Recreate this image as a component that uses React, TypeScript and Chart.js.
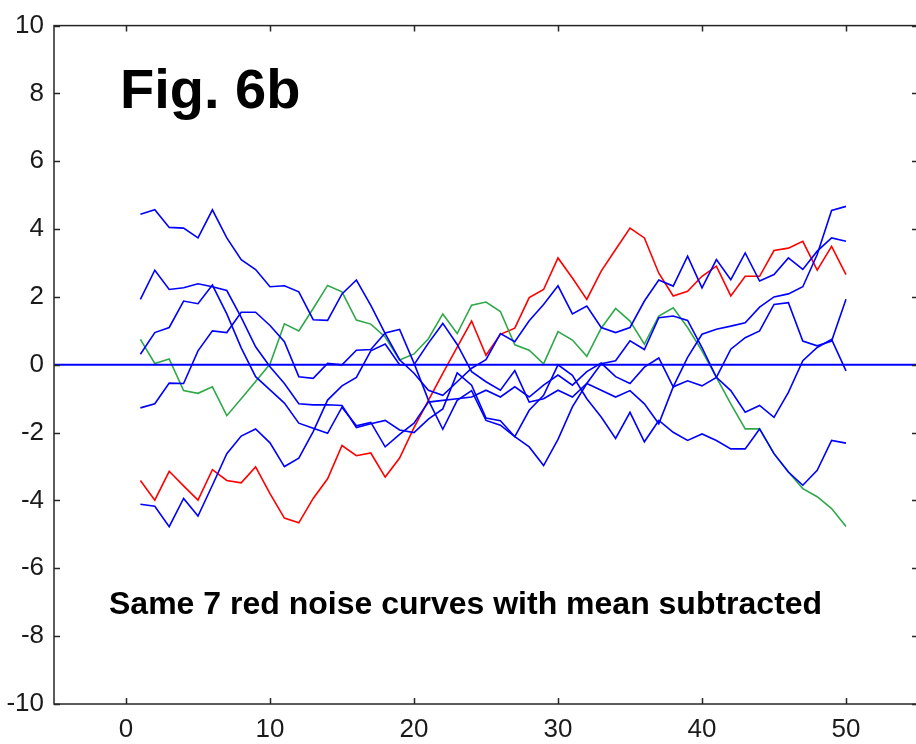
import React, { useEffect, useRef } from "react";
import { Chart, registerables } from "chart.js";

Chart.register(...registerables);

// ---------- data ----------
const xs = [1, 2, 3, 4, 5, 6, 7, 8, 9, 10, 11, 12, 13, 14, 15, 16, 17, 18, 19, 20, 21, 22, 23, 24, 25,
  26, 27, 28, 29, 30, 31, 32, 33, 34, 35, 36, 37, 38, 39, 40, 41, 42, 43, 44, 45, 46, 47, 48, 49, 50];

const blueA = [4.44, 4.57, 4.05, 4.03, 3.74, 4.57, 3.74, 3.10, 2.81, 2.30, 2.33, 2.15, 1.33, 1.31, 2.09, 2.50, 1.75, 0.92,
  0.15, -0.25, -0.75, -0.90, -0.50, -0.10, 0.15,
  0.92, 0.68, 1.30, 1.78, 2.33, 1.50, 1.73, 1.10, 0.95, 1.10, 1.88, 2.50,
  2.32, 3.20, 2.27, 3.10, 2.51, 3.30, 2.47, 2.66, 3.15, 2.81, 3.35, 3.74, 3.64];

const blueB = [-1.27, -1.15, -0.54, -0.55, 0.41, 1.00, 0.95, 1.55, 1.55, 1.16, 0.68, -0.35, -0.40, 0.04, 0.00, 0.43, 0.45, 0.94,
  1.04, 0.05, -1.04, -1.90, -1.05, -0.76, -1.64, -1.78, -2.12, -2.42, -2.97, -2.20, -1.24, -0.55, 0.03, 0.12, 0.71, 0.45,
  1.39, 1.44, 1.31, 0.51, -0.37, -0.76, -1.40, -1.20, -1.55, -0.81, 0.12, 0.51, 0.75, -0.18];

const blueC = [-4.11, -4.17, -4.77, -3.94, -4.46, -3.55, -2.62, -2.10, -1.89, -2.30, -3.00, -2.75, -1.97, -1.04, -0.62, -0.37, 0.41, 0.61,
  0.00, 0.00, 0.64, 1.22, 0.60, -0.20, -0.50, -0.75, -0.17, -1.10, -1.00, -0.75, -0.95, -0.55, -0.75, -0.95, -0.76, -1.15,
  -1.74, -0.65, 0.22, 0.90, 1.05, 1.14, 1.24, 1.70, 2.00, 2.09, 2.30, 3.25, 4.55, 4.67];

const blueD = [1.93, 2.79, 2.22, 2.27, 2.39, 2.30, 2.19, 1.40, 0.53, -0.06, -0.55, -1.15, -1.18, -1.18, -1.20, -1.85, -1.74, -1.64,
  -1.92, -2.00, -1.60, -1.30, -0.24, -0.60, -1.57, -1.65, -2.12, -1.34, -0.90, 0.00, -0.31, -1.00, -1.54, -2.17, -1.40, -2.27,
  -1.64, -1.99, -2.23, -2.04, -2.23, -2.48, -2.48, -1.89, -2.62, -3.16, -3.55, -3.11, -2.23, -2.31];

const blueE = [0.31, 0.95, 1.10, 1.88, 1.80, 2.35, 1.50, 0.50, -0.35, -0.74, -1.13, -1.72, -1.87, -2.02, -1.25, -1.80, -1.70, -2.42,
  -2.05, -1.72, -1.10, -1.05, -1.00, -0.95, -0.75, -0.95, -0.65, -0.95, -0.60, -0.30, -0.60, -0.20, 0.05, -0.35, -0.55, -0.07,
  0.20, -0.65, -0.47, -0.62, -0.37, 0.46, 0.80, 1.00, 1.78, 1.83, 0.70, 0.56, 0.70, 1.93];

const red = [-3.41, -3.99, -3.14, -3.57, -3.99, -3.09, -3.41, -3.48, -3.01, -3.80, -4.52, -4.66,
  -3.94, -3.36, -2.38, -2.68, -2.60, -3.31, -2.75, -1.85, -1.05, -0.25, 0.52, 1.29,
  0.28, 0.90, 1.08, 1.98, 2.22, 3.15, 2.56, 1.93, 2.76, 3.40, 4.03, 3.74, 2.70,
  2.03, 2.17, 2.61, 2.91, 2.03, 2.61, 2.61, 3.37, 3.44, 3.64, 2.79, 3.49, 2.66];

const green = [0.75, 0.04, 0.17, -0.76, -0.84, -0.65, -1.50, -1.00, -0.49, 0.02, 1.21, 1.00,
  1.66, 2.34, 2.15, 1.32, 1.20, 0.82, 0.14, 0.32, 0.77, 1.50, 0.92, 1.76,
  1.85, 1.57, 0.59, 0.43, 0.03, 0.98, 0.73, 0.25, 1.08, 1.66, 1.29, 0.61, 1.44,
  1.68, 1.10, 0.41, -0.37, -1.15, -1.89, -1.89, -2.62, -3.16, -3.65, -3.89, -4.24, -4.77];

const zeroLineX = [-5, 55];
const zeroLineY = [0, 0];

const xTicks = [0, 10, 20, 30, 40, 50];
const yTicks = [-10, -8, -6, -4, -2, 0, 2, 4, 6, 8, 10];
const xRange = [-5, 55];
const yRange = [-10, 10];

const titleText = "Fig. 6b";
const noteText = "Same 7 red noise curves with mean subtracted";

// ---------- styles ----------
const BLUE = "#0000ff";
const RED = "#ff0000";
const GREEN = "#2fa84a";
const AXIS = "#262626";
const FONT = "'Liberation Sans', Arial, Helvetica, sans-serif";

const toPts = (ys: number[], xv: number[]) => ys.map((y, i) => ({ x: xv[i], y }));

const series = (data: number[], color: string) => ({
  data: toPts(data, xs),
  borderColor: color,
  backgroundColor: color,
  borderWidth: 1.6,
  pointRadius: 0,
  tension: 0,
  fill: false,
});

const framePlugin = {
  id: "frame",
  afterDraw(chart: any) {
    const { ctx, chartArea: a, scales } = chart;
    const sx = scales.x;
    const sy = scales.y;
    ctx.save();
    ctx.strokeStyle = AXIS;
    ctx.lineWidth = 1.5;
    ctx.strokeRect(a.left, a.top, a.right - a.left, a.bottom - a.top);
    const tl = 6;
    ctx.beginPath();
    xTicks.forEach((v) => {
      const px = Math.round(sx.getPixelForValue(v)) + 0.5;
      ctx.moveTo(px, a.bottom);
      ctx.lineTo(px, a.bottom - tl);
      ctx.moveTo(px, a.top);
      ctx.lineTo(px, a.top + tl);
    });
    yTicks.forEach((v) => {
      const py = Math.round(sy.getPixelForValue(v)) + 0.5;
      ctx.moveTo(a.left, py);
      ctx.lineTo(a.left + tl, py);
      ctx.moveTo(a.right, py);
      ctx.lineTo(a.right - tl, py);
    });
    ctx.lineWidth = 1.5;
    ctx.stroke();

    ctx.fillStyle = "#000";
    ctx.textAlign = "left";
    ctx.textBaseline = "alphabetic";
    ctx.font = `bold 56px ${FONT}`;
    ctx.fillText(titleText, 120, 108);
    ctx.font = `bold 32px ${FONT}`;
    ctx.fillText(noteText, 109, 614);
    ctx.restore();
  },
};

export default function App() {
  const ref = useRef<HTMLCanvasElement>(null);

  useEffect(() => {
    document.body.style.margin = "0";
    document.body.style.overflow = "hidden";
    const canvas = ref.current;
    if (!canvas) return;
    const chart = new Chart(canvas, {
      type: "line",
      data: {
        datasets: [
          {
            data: toPts(zeroLineY, zeroLineX),
            borderColor: BLUE,
            borderWidth: 2,
            pointRadius: 0,
            fill: false,
          },
          series(blueA, BLUE),
          series(blueB, BLUE),
          series(blueC, BLUE),
          series(blueD, BLUE),
          series(blueE, BLUE),
          series(green, GREEN),
          series(red, RED),
        ],
      },
      options: {
        animation: false,
        responsive: false,
        devicePixelRatio: 1,
        layout: { padding: { top: 23, right: 12, left: 0, bottom: 0 } },
        plugins: {
          legend: { display: false },
          tooltip: { enabled: false },
          title: { display: false },
        },
        scales: {
          x: {
            type: "linear",
            min: xRange[0],
            max: xRange[1],
            grid: { display: false, drawTicks: false, tickLength: 0 },
            border: { display: false },
            afterFit: (s: any) => {
              s.height = 40;
            },
            afterBuildTicks: (s: any) => {
              s.ticks = xTicks.map((v) => ({ value: v }));
            },
            ticks: {
              color: "#1a1a1a",
              font: { family: FONT, size: 26 },
              padding: 10,
              maxRotation: 0,
              autoSkip: false,
            },
          },
          y: {
            type: "linear",
            min: yRange[0],
            max: yRange[1],
            grid: { display: false, drawTicks: false, tickLength: 0 },
            border: { display: false },
            afterFit: (s: any) => {
              s.width = 54;
            },
            afterBuildTicks: (s: any) => {
              s.ticks = yTicks.map((v) => ({ value: v }));
            },
            ticks: {
              color: "#1a1a1a",
              font: { family: FONT, size: 26 },
              padding: 10,
              autoSkip: false,
            },
          },
        },
      },
      plugins: [framePlugin],
    });
    return () => chart.destroy();
  }, []);

  return (
    <div
      style={{
        position: "absolute",
        left: 0,
        top: 0,
        width: 916,
        height: 744,
        overflow: "hidden",
        background: "#fff",
      }}
    >
      <canvas ref={ref} width={930} height={744} style={{ display: "block" }} />
    </div>
  );
}
